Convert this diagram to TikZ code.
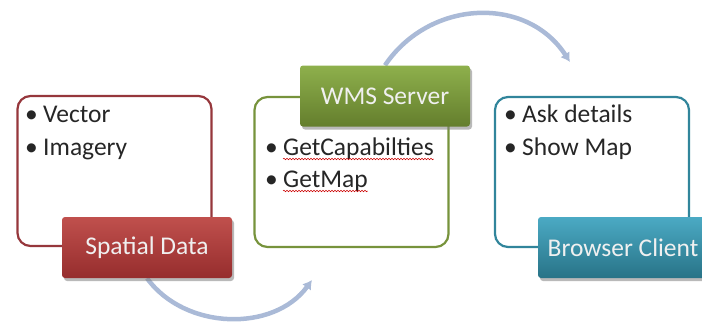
\documentclass[tikz,border=0pt]{standalone}
\usepackage{fontspec}
\setmainfont{Carlito}
\usetikzlibrary{
    arrows.meta,
    backgrounds,
    positioning,
    shadows,
    decorations.pathmorphing
}

\definecolor{dataline}{RGB}{150,55,60}
\definecolor{datatop}{RGB}{192,80,77}
\definecolor{databot}{RGB}{150,45,45}
\definecolor{wmsline}{RGB}{119,147,60}
\definecolor{wmstop}{RGB}{142,176,76}
\definecolor{wmsbot}{RGB}{100,126,45}
\definecolor{clientline}{RGB}{49,133,155}
\definecolor{clienttop}{RGB}{75,170,196}
\definecolor{clientbot}{RGB}{40,115,135}
\definecolor{flowblue}{RGB}{170,186,215}

\tikzset{
  frame/.style={
    line width=2.2pt,
    rounded corners=13pt,
    minimum width=194pt,
    minimum height=150pt
  },
  tag/.style={
    rounded corners=3pt,
    minimum width=170pt,
    minimum height=61pt,
    text=white!94!black,
    font=\fontsize{25.5}{30}\selectfont,
    drop shadow={shadow xshift=2pt, shadow yshift=-3pt, opacity=0.55}
  },
  item/.style={
    anchor=base west,
    inner sep=0pt,
    text=black!85,
    font=\fontsize{25.5}{30}\selectfont
  },
  dot/.style={
    inner sep=0pt,
    text=black!85,
    font=\fontsize{25.5}{30}\selectfont
  },
  flow/.style={
    line width=4.5pt,
    draw=flowblue,
    -{Latex[length=9pt, width=11pt]}
  },
  typo/.style={
    draw=red!80!black,
    line width=0.5pt,
    decorate,
    decoration={snake, amplitude=0.8pt, segment length=3pt}
  }
}

\begin{document}
\begin{tikzpicture}[x=1pt, y=1pt]

  \useasboundingbox (0,0) rectangle (702,-324);

  % Spatial Data {{{
  \node[
    frame,
    draw=dataline
  ] (dataframe) at (114.5,-171) {};
  \node[
    tag,
    top color=datatop,
    bottom color=databot
  ] (datatag) at (147,-247.5) {Spatial Data};
  \node[item] (dataA) at (43,-122) {Vector};
  \node[item] (dataB) at (43,-155) {Imagery};
  \node[dot, base left=5pt of dataA] (dataAdot) {\textbullet};
  \node[dot, base left=5pt of dataB] (dataBdot) {\textbullet};
  % }}}

  % WMS Server {{{
  \node[
    frame,
    draw=wmsline
  ] (wmsframe) at (351.5,-172) {};
  \node[
    tag,
    top color=wmstop,
    bottom color=wmsbot
  ] (wmstag) at (385,-96) {WMS Server};
  \node[item] (wmsA) at (283,-155) {GetCapabilties};
  \node[item] (wmsB) at (283,-187) {GetMap};
  \node[dot, base left=5pt of wmsA] (wmsAdot) {\textbullet};
  \node[dot, base left=5pt of wmsB] (wmsBdot) {\textbullet};
  \draw[typo] ([yshift=-4pt]wmsA.base west) -- ([yshift=-4pt]wmsA.base east);
  \draw[typo] ([yshift=-4pt]wmsB.base west) -- ([yshift=-4pt]wmsB.base east);
  % }}}

  % Browser Client {{{
  \node[
    frame,
    draw=clientline
  ] (clientframe) at (592,-172) {};
  \node[
    tag,
    top color=clienttop,
    bottom color=clientbot
  ] (clienttag) at (623,-247.5) {Browser Client};
  \node[item] (clientA) at (522,-122) {Ask details};
  \node[item] (clientB) at (522,-155) {Show Map};
  \node[dot, base left=5pt of clientA] (clientAdot) {\textbullet};
  \node[dot, base left=5pt of clientB] (clientBdot) {\textbullet};
  % }}}

  % flow arcs {{{
  \coordinate (wmsin) at (312,-280);
  \coordinate (clientin) at (570,-62);
  \begin{scope}[on background layer]
    \draw[flow] (datatag.south) to[out=-54, in=-126] (wmsin);
    \draw[flow] (wmstag.north) to[out=56, in=123, looseness=1.1] (clientin);
  \end{scope}
  % }}}

\end{tikzpicture}
\end{document}
